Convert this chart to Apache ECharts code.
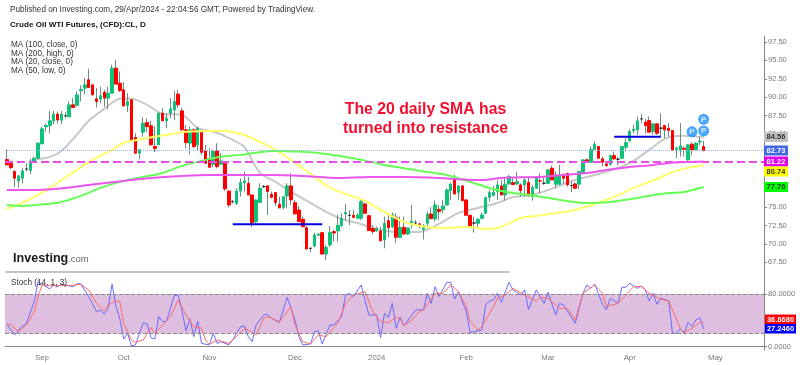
<!DOCTYPE html>
<html>
<head>
<meta charset="utf-8">
<title>Crude Oil WTI Futures</title>
<style>html,body{margin:0;padding:0;background:#fff}#chart{width:800px;height:365px}</style>
<script src="https://cdn.jsdelivr.net/npm/echarts@6/dist/echarts.min.js"></script>
</head>
<body>
<div id="chart"></div>
<script>
// daily candles
const opens = [81.49,80.95,79.86,78.58,78.95,80.2,79.99,81.22,81.67,83.63,
85.95,86.13,86.77,87.68,86.86,87.45,87.31,88.95,88.86,90.86,
91.22,92.36,91.68,89.77,89.72,90.68,89.86,90.54,93.95,91.9,
90.99,88.86,89.63,84.5,82.36,85.22,86.54,86.09,83.27,83.5,
87.81,86.77,87.81,88.27,90.41,88.13,85.54,83.72,85.54,83.49,
85.22,82.67,81.53,80.85,82.67,80.85,80.99,77.2,75.76,75.53,
77.2,78.35,78.26,76.67,73.03,75.67,77.81,77.9,76.76,76.99,
75.4,74.99,76.53,77.9,75.62,74.62,73.35,72.21,69.39,69.71,
71.17,71.53,68.62,69.85,71.67,71.76,72.49,74.08,73.9,73.9,
73.49,73.49,75.44,73.85,72.08,71.76,71.76,70.53,73.17,72.35,
73.62,70.9,72.26,71.35,72.72,72.85,72.72,71.99,72.81,74.08,
73.4,74.72,74.63,75.31,77.26,78.94,76.99,77.9,75.99,73.9,
72.85,72.81,73.49,74.17,76.35,76.63,77.13,77.9,76.67,78.17,
78.35,78.17,78.04,78.04,78.4,76.45,77.58,78.6,78.26,78.26,
80.31,78.13,78.13,79.4,79.63,77.95,78.17,78.13,79.63,81.45,
81.13,82.9,83.27,81.58,80.9,80.86,82.04,81.54,81.67,83.18,
84.04,85.45,85.54,87.04,86.59,86.81,85.31,86.36,85.77,86.13,
85.77,85.45,82.9,82.67,83.04,81.45,83.58,82.81,83.9,83.27];
const closes = [80.77,80.4,78.95,79.27,79.95,80.2,81.3,81.67,83.72,85.68,
86.13,86.77,87.68,86.9,87.68,87.45,88.95,88.58,90.31,91.04,
91.68,91.31,90.31,89.4,90.18,89.86,90.54,93.95,91.77,90.9,
88.81,89.4,84.17,82.36,82.81,86.45,85.99,83.5,82.99,87.81,
86.77,87.13,88.4,89.4,88.95,85.54,83.8,85.54,83.26,85.76,
82.49,80.99,80.44,82.58,80.53,81.31,77.49,75.31,75.76,77.2,
78.35,78.58,76.67,72.9,75.99,77.58,77.81,77.12,76.35,75.62,
74.9,76.44,77.9,75.99,74.08,73.03,72.35,69.3,69.39,71.21,
71.35,68.62,69.53,71.58,71.49,72.53,73.49,74.3,73.9,73.62,
73.94,75.76,74.17,71.81,71.67,72.08,70.44,72.81,72.21,73.94,
70.9,72.26,71.35,72.17,73.08,72.85,72.44,72.53,74.08,73.44,
75.31,74.4,75.17,77.35,78.13,76.81,77.9,75.9,73.9,72.35,
72.85,73.35,73.94,76.31,76.99,77.03,78.04,76.67,78.13,79.17,
78.08,78.49,77.26,78.72,76.58,77.67,79.04,78.58,78.26,80.08,
78.72,79.4,79.4,78.95,78.04,77.95,77.58,79.86,81.45,81.13,
82.9,83.58,81.67,81.13,80.67,82.04,81.58,81.54,83.27,83.81,
85.31,85.63,86.77,87.04,86.13,85.22,86.36,85.08,85.77,85.54,
85.45,82.81,83.04,83.36,82.9,83.5,82.81,83.72,84.0,82.73];
const lows = [80.7,80.2,77.72,77.67,78.27,79.86,79.5,81.1,81.58,83.6,
85.3,85.08,86.3,86.45,86.3,87.13,87.31,88.58,88.72,89.4,
90.4,91.22,90.22,88.58,89.18,88.72,88.36,90.54,91.77,90.68,
88.72,87.95,84.04,82.27,81.58,84.63,85.22,83.4,82.5,83.5,
86.77,85.77,87.13,86.9,88.54,85.4,83.0,82.2,83.03,82.8,
82.13,80.99,80.44,80.44,80.3,80.76,77.2,74.99,75.53,75.3,
76.44,77.12,76.67,72.26,72.8,75.53,77.58,73.94,76.21,75.17,
74.9,74.71,74.85,75.3,74.08,73.03,72.26,69.3,68.85,69.53,
71.17,68.48,67.8,69.62,70.3,70.3,72.35,73.26,72.58,73.49,
73.49,73.26,74.08,71.76,71.35,71.67,70.3,69.4,70.9,72.12,
70.17,70.76,71.2,71.2,72.12,72.58,72.12,70.6,72.12,73.35,
73.03,73.26,74.17,75.17,75.99,76.67,75.99,75.76,73.81,72.26,
71.53,72.26,73.35,74.08,75.76,76.44,75.99,76.67,75.9,78.04,
78.04,78.04,76.44,76.44,76.44,75.9,77.49,76.9,78.04,78.13,
78.72,77.67,78.04,78.13,77.81,77.04,77.58,77.49,79.63,81.13,
81.13,82.81,81.67,80.54,80.54,80.67,81.45,80.76,81.58,82.58,
83.86,85.08,84.86,86.45,85.08,85.22,84.86,84.86,84.63,84.4,
84.63,82.72,81.67,81.9,81.9,81.31,82.13,82.68,83.5,82.58];
const highs = [82.81,81.1,80.08,79.4,80.31,81.0,81.58,81.9,83.86,86.0,
86.4,88.13,88.13,88.04,88.13,87.95,89.4,89.86,90.77,91.59,
92.59,93.86,91.68,91.22,91.45,90.99,91.45,94.41,95.09,93.5,
92.04,90.54,89.77,85.08,82.9,87.27,87.13,86.77,85.99,87.95,
88.5,87.81,89.86,90.86,91.0,88.54,86.2,85.99,85.76,85.99,
85.3,83.49,83.03,82.81,83.72,82.35,81.08,77.35,75.99,77.58,
78.94,79.85,79.17,76.67,76.08,78.26,78.03,78.03,77.12,76.99,
76.44,76.53,78.26,79.62,75.99,75.17,73.71,72.44,69.53,71.53,
71.44,71.62,69.85,72.44,71.9,73.94,74.17,75.44,74.62,74.62,
74.17,76.22,75.63,73.94,72.58,72.35,72.35,73.72,73.94,74.26,
74.17,73.72,73.72,72.26,75.3,73.26,72.9,72.72,74.4,74.99,
75.9,75.31,75.99,77.58,78.35,79.4,78.04,78.04,76.08,73.94,
73.72,73.49,74.26,76.44,77.35,77.9,78.63,78.72,78.94,79.4,
78.94,79.85,78.26,78.94,79.17,78.04,79.17,79.63,79.17,80.22,
80.67,79.86,80.76,79.63,79.63,78.58,78.4,79.95,81.54,81.67,
83.27,83.95,83.27,81.9,81.13,82.13,82.58,81.9,83.36,84.4,
85.68,86.22,87.36,87.68,87.04,87.36,86.45,86.45,87.81,86.22,
86.45,85.54,83.27,86.45,83.27,83.58,83.86,83.86,84.63,84.04];

// moving averages as [candle index, price] read at the bends
const ma20 = [[7,81.45],[11,81.86],[14,82.67],[17,84.31],[21,86.77],[25,88.4],[29,89.77],[32,89.77],[36,88.95],[40,87.72],[45,87.58],[49,85.81],[54,85.13],[58,84.17],[61,83.22],[65,79.67],[69,78.45],[73,77.08],[78,75.58],[82,74.35],[86,73.4],[90,72.85],[95,72.03],[100,71.63],[106,71.63],[111,72.72],[116,74.22],[121,74.9],[126,75.58],[130,76.4],[134,76.6],[140,77.5],[145,78.58],[151,79.4],[157,80.35],[161,81.3],[165,82.81],[169,84.31],[173,84.72],[179,84.56]];
const ma50 = [[0,74.76],[4,75.58],[7,76.4],[11,77.63],[16,79.4],[22,81.45],[27,82.81],[30,83.76],[35,84.31],[41,84.86],[46,85.27],[52,85.4],[56,85.4],[60,85.0],[65,83.9],[68,83.08],[73,81.45],[79,79.13],[83,77.63],[87,76.81],[92,75.85],[97,74.35],[102,72.99],[108,72.31],[112,72.17],[119,72.31],[123,72.03],[127,72.31],[132,73.53],[136,73.8],[141,74.2],[146,74.63],[151,75.44],[156,76.4],[161,77.63],[167,78.85],[171,79.81],[175,80.36],[179,80.74]];
const ma100 = [[0,75.31],[4,75.17],[10,75.44],[14,75.72],[19,76.54],[24,77.63],[29,78.45],[35,79.13],[40,79.67],[45,80.63],[50,81.31],[55,81.86],[60,82.13],[68,82.67],[76,82.54],[82,82.26],[90,81.58],[97,80.76],[108,79.81],[113,79.4],[119,78.45],[123,77.76],[127,77.22],[132,76.81],[136,76.54],[142,75.99],[148,75.58],[155,75.72],[162,76.26],[168,76.81],[174,77.08],[179,77.76]];
const ma200 = [[0,77.35],[7,77.35],[12,77.49],[17,77.76],[23,78.17],[30,78.58],[37,78.99],[45,79.26],[52,79.4],[58,79.4],[68,79.4],[76,79.26],[85,78.99],[93,79.13],[102,79.13],[111,78.99],[119,78.72],[123,78.72],[127,78.99],[137,79.13],[143,79.4],[149,79.67],[154,80.08],[160,80.49],[166,80.76],[170,81.04],[179,81.22]];

// hand drawn support segments and the "P" flags
const supportA = [[58,72.67],[81,72.67]];
const supportB = [[156,84.6],[168,84.6]];
const flags = [[179,86.97],[179,85.4],[176,85.27]];

// stochastic pane
const stochK = [[0,34],[2,18],[4,31.5],[5,35.5],[7,68.5],[8,99],[9,95],[11,87.7],[12,93.8],[13,90.8],[14,95],[15,93.8],[17,91.3],[18,95.8],[19,95.3],[21,76],[23,53.3],[24,55.8],[25,49.2],[26,58.3],[27,95],[28,60.9],[29,43.1],[30,11.7],[31,20.3],[32,1],[33,2.6],[35,36.6],[36,34.5],[37,13.8],[38,11.7],[39,45.7],[40,38],[41,39],[43,77.6],[44,78.6],[45,53.3],[46,24.4],[47,42.1],[48,15.3],[49,39],[50,5.1],[52,2.6],[53,20.3],[54,5.1],[55,7.7],[57,2.6],[58,10.2],[60,30.5],[61,31.5],[62,15.3],[63,7.7],[64,33],[66,48.2],[67,49.2],[68,43.1],[70,37],[72,75],[74,40.6],[75,15.3],[76,2.6],[78,4.1],[79,22.9],[80,24.4],[81,4.1],[83,33],[84,33],[86,45.7],[87,78.6],[88,81.1],[89,76],[91,93.8],[92,71],[93,48.2],[95,48.2],[96,13.8],[97,50.7],[98,44.2],[99,65.9],[100,27.9],[101,44.7],[102,31.5],[105,55.8],[107,55.8],[108,81.1],[109,65.9],[110,91.3],[111,76],[113,97.9],[114,97.9],[115,72.5],[116,83.7],[118,53.3],[119,21.4],[122,25.4],[123,63.4],[124,69.5],[125,71],[126,81.1],[127,67.5],[129,97.9],[130,86.2],[132,78.6],[133,86.2],[134,56.8],[136,86.2],[138,65.9],[139,82.7],[141,48.2],[142,65.9],[143,63.4],[145,44.7],[146,35.5],[148,81.1],[149,93.8],[150,88.7],[151,95.3],[153,64.4],[154,55.8],[155,73.5],[157,65.9],[158,90.3],[159,90.3],[160,96.3],[162,88.7],[163,92.3],[164,86.2],[165,69.5],[166,81.1],[167,64.4],[168,73.5],[170,69.5],[171,20.3],[172,20.3],[173,28],[174,21],[175,37],[176,30.5],[177,40.6],[178,44],[179,27.25]];
const stochD = [[0,35.5],[1,33],[3,22.9],[5,33],[7,53],[8,76],[9,93.8],[11,92.8],[14,92.8],[16,92.8],[19,94.8],[21,86],[23,66],[25,54.3],[26,63.4],[28,70],[29,68.5],[30,35.5],[32,10.2],[33,6.7],[35,10.2],[37,29],[38,20.3],[40,33],[42,45.7],[44,71],[46,48.2],[48,30.5],[50,28],[51,10.2],[52,3.6],[54,10.2],[57,5.1],[58,10.2],[61,27],[62,25.4],[64,17.8],[66,43.1],[67,45.7],[70,38],[73,60.9],[74,33],[76,7.7],[78,4.1],[80,17.8],[82,15.3],[85,35.5],[87,65.9],[89,78.6],[92,83.7],[94,53.3],[96,38],[98,37],[100,44.2],[101,43.1],[102,31.5],[104,40.6],[106,53.3],[107,55.8],[110,81.1],[112,81.1],[114,93.8],[116,83.7],[118,60.9],[119,38],[121,25.4],[122,30.5],[125,60.9],[126,73.5],[128,78.6],[130,88.7],[133,78.6],[136,69.5],[137,75],[139,73.5],[142,58.3],[144,58.3],[146,40.6],[148,81.1],[151,93.8],[153,81.1],[154,60.9],[157,65.9],[161,91.3],[163,91.3],[165,81.1],[168,72],[170,69.5],[173,28],[174,21.4],[176,28],[178,37],[179,36.87]];

// axis text
const priceTicks = [97.5,95,92.5,90,87.5,85,82.5,80,77.5,75,72.5,70,67.5];
const stochTicks = [80,0];
const monthIndex = [9,30,52,74,95,118,139,160,182];
const monthNames = ['Sep','Oct','Nov','Dec','2024','Feb','Mar','Apr','May'];
const categories = Array.from({length:195},(_,i)=>'d'+i);
const legendLines = ['MA (100, close, 0)','MA (200, high, 0)','MA (20, close, 0)','MA (50, low, 0)'];
const priceTags = [
  ['84.56','#c0c0c0','#333',132],
  ['82.73','#4169e1','#fff',145.5],
  ['81.22','#e600e6','#fff',156.5],
  ['80.74','#ffff00','#333',166.5],
  ['77.76','#00ff00','#333',182]
];
const stochTags = [['36.8680','#ff0000','#fff',314.5],['27.2460','#0000ff','#fff',324]];

const FONT = '"Liberation Sans", Arial, sans-serif';
const ohlcRows = opens.map((o,i)=>[o,closes[i],lows[i],highs[i]]);
const bodyRows = opens.map((o,i)=>[o,closes[i],Math.min(o,closes[i]),Math.max(o,closes[i])]);

function maLine(data,color,z){
  return {type:'line',data:data,xAxisIndex:0,yAxisIndex:0,showSymbol:false,smooth:0.25,z:z,silent:true,
    lineStyle:{color:color,width:2}};
}
function segment(data){
  return {type:'line',data:data,xAxisIndex:0,yAxisIndex:0,showSymbol:false,z:6,silent:true,
    lineStyle:{color:'#0000dd',width:2}};
}

const graphics = [];
function txt(x,y,text,style,top){
  graphics.push({type:'text',x:x,y:y,silent:true,z:20,zlevel:top?1:0,style:Object.assign({text:text,font:'8.2px '+FONT,fill:'#333',textVerticalAlign:'middle'},style||{})});
}
txt(10,10,'Published on Investing.com, 29/Apr/2024 - 22:04:56 GMT, Powered by TradingView.');
txt(10,25,'Crude Oil WTI Futures, (CFD):CL, D',{font:'bold 8.1px '+FONT,fill:'#111'});
legendLines.forEach((s,i)=>txt(11,45+i*8.6,s));
txt(11,282.5,'Stoch (14, 1, 3)');
txt(425.5,110,'The 20 daily SMA has',{font:'bold 15.8px '+FONT,fill:'#f01030',textAlign:'center'});
txt(425.5,129,'turned into resistance',{font:'bold 15.8px '+FONT,fill:'#f01030',textAlign:'center'});
txt(13,258.5,'Investing',{font:'bold 12.6px '+FONT,fill:'#1a1a1a'});
txt(68,259.5,'.com',{font:'9.5px '+FONT,fill:'#666'});
graphics.push({type:'rect',silent:true,z:5,shape:{x:5,y:271,width:505,height:2},style:{fill:'#c4c4c4'}});
priceTags.forEach(t=>{
  graphics.push({type:'rect',silent:true,z:19,zlevel:1,shape:{x:764,y:t[3],width:24,height:10},style:{fill:t[1]}});
  txt(776,t[3]+5,t[0],{font:'bold 7.5px '+FONT,fill:t[2],textAlign:'center'},true);
});
stochTags.forEach(t=>{
  graphics.push({type:'rect',silent:true,z:19,zlevel:1,shape:{x:765,y:t[3],width:31,height:9.5},style:{fill:t[1]}});
  txt(780.5,t[3]+5,t[0],{font:'bold 7.5px '+FONT,fill:t[2],textAlign:'center'},true);
});

const chart = echarts.init(document.getElementById('chart'),null,{renderer:'canvas'});
chart.setOption({
  animation:false,
  backgroundColor:'#fff',
  graphic:graphics,
  grid:[
    {left:5,right:36,top:36,height:236},
    {left:5,right:36,top:272,height:78}
  ],
  xAxis:[
    {type:'category',gridIndex:0,data:categories,boundaryGap:true,axisLine:{show:false},axisTick:{show:false},axisLabel:{show:false},splitLine:{show:false}},
    {type:'category',gridIndex:1,data:categories,boundaryGap:true,
      axisLine:{lineStyle:{color:'#888',width:1}},
      axisTick:{length:3,alignWithLabel:true,interval:i=>monthIndex.includes(i),lineStyle:{color:'#888'}},
      axisLabel:{interval:i=>monthIndex.includes(i),formatter:(v,i)=>monthNames[monthIndex.indexOf(i)]||'',color:'#777',fontSize:7.8,fontFamily:FONT,margin:4,hideOverlap:false},
      splitLine:{show:false}}
  ],
  yAxis:[
    {type:'value',gridIndex:0,position:'right',min:66.17,max:98.33,scale:true,
      axisLine:{show:true,lineStyle:{color:'#888',width:1}},
      axisTick:{show:true,length:3,customValues:priceTicks,lineStyle:{color:'#888'}},
      axisLabel:{customValues:priceTicks,formatter:v=>v.toFixed(2),color:'#777',fontSize:7.5,fontFamily:FONT,margin:4},
      splitLine:{show:false}},
    {type:'value',gridIndex:1,position:'right',min:-5,max:113.5,scale:true,
      axisLine:{show:true,lineStyle:{color:'#888',width:1}},
      axisTick:{show:true,length:3,customValues:stochTicks,lineStyle:{color:'#888'}},
      axisLabel:{customValues:stochTicks,formatter:v=>v.toFixed(4),color:'#777',fontSize:7.5,fontFamily:FONT,margin:4},
      splitLine:{show:false}}
  ],
  series:[
    maLine(ma20,'#c8c8c8',1),
    // wicks first, bodies painted on top so the outline stays the body colour
    {type:'candlestick',data:ohlcRows,xAxisIndex:0,yAxisIndex:0,barWidth:1,z:2,silent:true,
      itemStyle:{color:'#6f8a80',color0:'#6f8a80',borderColor:'#6f8a80',borderColor0:'#6f8a80',borderColorDoji:'#6f8a80',borderWidth:1}},
    {type:'candlestick',data:bodyRows,xAxisIndex:0,yAxisIndex:0,barWidth:3,z:3,silent:true,
      itemStyle:{color:'#0fc27a',color0:'#ff0000',borderColor:'#0fc27a',borderColor0:'#ff0000',borderColorDoji:'#222',borderWidth:1},
      markLine:{silent:true,symbol:'none',label:{show:false},animation:false,
        data:[
          {yAxis:82.73,lineStyle:{color:'#9db4f0',type:'dotted',width:1}},
          {yAxis:81.22,lineStyle:{color:'#e64ee6',type:'dashed',width:2}}
        ]}},
    maLine(ma50,'#ffff66',4),
    maLine(ma100,'#66ff55',4),
    maLine(ma200,'#ee55ee',5),
    segment(supportA),
    segment(supportB),
    {type:'scatter',data:flags,xAxisIndex:0,yAxisIndex:0,symbol:'circle',symbolSize:11,z:7,silent:true,
      itemStyle:{color:'#1e90ff'},
      label:{show:true,position:'inside',formatter:'P',color:'#fff',fontSize:8,fontWeight:'bold',fontFamily:FONT}},
    {type:'line',data:stochK,xAxisIndex:1,yAxisIndex:1,showSymbol:false,z:3,silent:true,
      lineStyle:{color:'#6a6aff',width:1},
      markArea:{silent:true,itemStyle:{color:'#dfbfdf',opacity:1},data:[[{yAxis:80},{yAxis:20}]]},
      markLine:{silent:true,symbol:'none',label:{show:false},lineStyle:{color:'#888',type:'dashed',width:1},data:[{yAxis:80},{yAxis:20}]}},
    {type:'line',data:stochD,xAxisIndex:1,yAxisIndex:1,showSymbol:false,z:4,silent:true,
      lineStyle:{color:'#ff6a6a',width:1}}
  ]
});
</script>
</body>
</html>
